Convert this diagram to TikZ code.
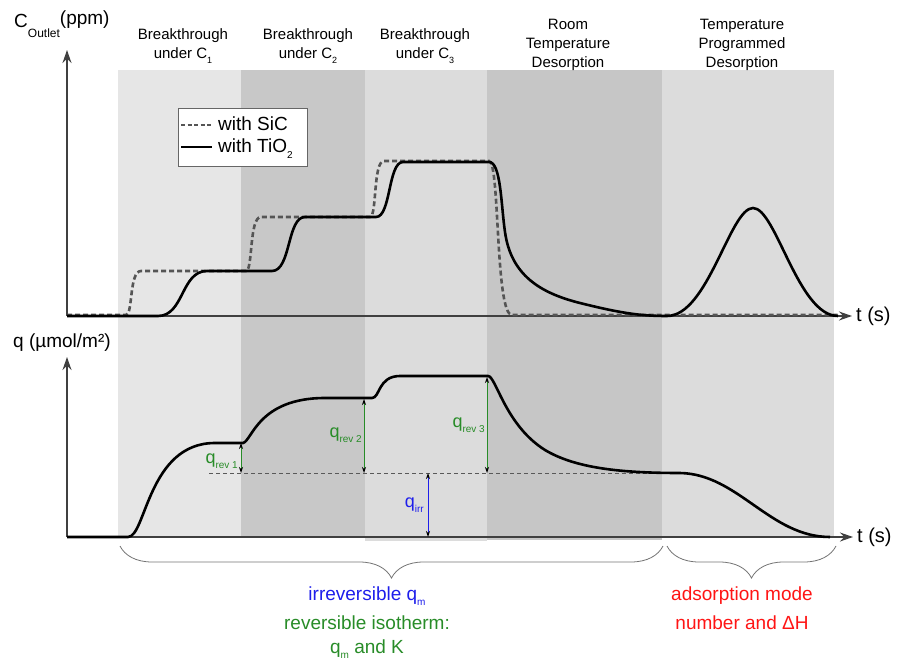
\documentclass[tikz,border=0pt]{standalone}
\usepackage{fontspec}
\setmainfont{Liberation Sans}
\usetikzlibrary{arrows.meta,decorations.pathreplacing}
\definecolor{bandA}{RGB}{230,230,230}
\definecolor{bandB}{RGB}{200,200,200}
\definecolor{bandC}{RGB}{220,220,220}
\definecolor{bandD}{RGB}{198,198,198}
\definecolor{sicgray}{RGB}{85,85,85}
\definecolor{qgreen}{RGB}{40,140,40}
\definecolor{qblue}{RGB}{30,30,235}
\definecolor{modered}{RGB}{255,20,20}
\newcommand{\sizeto}[1]{\fontsize{#1}{#1}\selectfont}
\newcommand{\dropsub}[2][9]{\raisebox{-0.3em}{\sizeto{#1}#2}}
\tikzset{
	axis/.style={line width=1.2pt, color=black!75, -{Stealth[length=13pt,width=9pt]}},
	tio/.style={line width=2.6pt, color=black},
	sic/.style={line width=2.6pt, color=sicgray, dash pattern=on 5pt off 3pt},
	stage/.style={align=center, font=\sizeto{15}, inner sep=0pt},
	bigtxt/.style={font=\sizeto{19}, inner sep=0pt},
	qarrow/.style={line width=0.9pt, {Stealth[length=6pt,width=4pt,black]}-{Stealth[length=6pt,width=4pt,black]}},
	qlbl/.style={font=\sizeto{18}, inner sep=0pt, anchor=base east},
	curly/.style={decorate, decoration={brace, amplitude=32pt}, line width=0.8pt, color=black!55},
}

\begin{document}
\begin{tikzpicture}[x=1pt, y=-1pt]
	%%%%% START %%%%%
	\useasboundingbox (0,0) rectangle (903,661);

	% shaded stages
	\fill[bandA] (118,70) rectangle (241,538);
	\fill[bandB] (241,70) rectangle (365,536);
	\fill[bandC] (365,70) rectangle (487,541);
	\fill[bandD] (487,70) rectangle (662,540);
	\fill[bandC] (662,70) rectangle (834,538);

	% stage titles
	\node[stage] (stBone) at (183,46) {Breakthrough\\[4pt]under C\dropsub{1}};
	\node[stage] (stBtwo) at (308,46) {Breakthrough\\[4pt]under C\dropsub{2}};
	\node[stage] (stBthree) at (425,46) {Breakthrough\\[4pt]under C\dropsub{3}};
	\node[stage] (stRTD) at (568,45) {Room\\[4pt]Temperature\\[4pt]Desorption};
	\node[stage] (stTPD) at (742,45) {Temperature\\[4pt]Programmed\\[4pt]Desorption};

	% upper axes
	\coordinate (oUp) at (67,316);
	\coordinate (yUp) at (67,50);
	\coordinate (xUp) at (852,316);
	\draw[axis] (oUp) -- (yUp);
	\draw[axis] (oUp) -- (xUp);
	\node[bigtxt, anchor=base west] (cLbl) at (14,28) {C\raisebox{-10pt}{\sizeto{12}Outlet}\raisebox{3pt}{(ppm)}};
	\node[font=\sizeto{20}, inner sep=0pt, anchor=west] (tUp) at (856,316) {t (s)};

	% outlet curves
	\draw[sic] (67,315) -- (126,315) .. controls (133,315) and (129,271) .. (141,271) -- (246,271)
		.. controls (253,271) and (249,217) .. (261,217) -- (370,217)
		.. controls (377,217) and (373,161) .. (384,161) -- (489,161)
		.. controls (500,161) and (495,315) .. (512,315) -- (840,315);
	\draw[tio] (67,316) -- (158,316) .. controls (184,316) and (181,271) .. (207,271) -- (272,271)
		.. controls (291,271) and (287,217) .. (305,217) -- (376,217)
		.. controls (391,217) and (388,162) .. (403,162) -- (489,162)
		.. controls (501,162) and (501,205) .. (505,232)
		.. controls (511,275) and (540,293) .. (580,303)
		.. controls (620,313) and (640,316) .. (667,316)
		.. controls (708,316) and (730,208) .. (753,208)
		.. controls (776,208) and (798,316) .. (838,316);

	% legend
	\draw[line width=0.8pt, color=black!60, fill=white] (178,108) rectangle (307,166);
	\coordinate (lgA) at (181,125);
	\coordinate (lgB) at (212,125);
	\coordinate (lgC) at (181,147);
	\coordinate (lgD) at (212,147);
	\draw[sic, dash pattern=on 4pt off 2.5pt] (lgA) -- (lgB);
	\draw[tio] (lgC) -- (lgD);
	\node[bigtxt, anchor=base west] (lgSiC) at (218,131) {with SiC};
	\node[bigtxt, anchor=base west] (lgTiO) at (218,153) {with TiO\dropsub[10]{2}};

	% lower axes
	\coordinate (oLo) at (67,537);
	\coordinate (yLo) at (67,357);
	\coordinate (xLo) at (853,537);
	\draw[axis] (oLo) -- (yLo);
	\draw[axis] (oLo) -- (xLo);
	\node[bigtxt, anchor=base west] (qLbl) at (13,347) {q (µmol/m²)};
	\node[font=\sizeto{20}, inner sep=0pt, anchor=west] (tLo) at (857,537) {t (s)};

	% q level line
	\coordinate (irrL) at (209,473);
	\coordinate (irrR) at (662,473);
	\draw[line width=1pt, color=black!65, dash pattern=on 4pt off 3pt] (irrL) -- (irrR);

	% adsorbed amount
	\draw[tio] (67,537) -- (128,537) .. controls (146,537) and (148,443) .. (215,443) -- (243,443)
		.. controls (252,441) and (258,398) .. (325,398) -- (372,398)
		.. controls (380,398) and (378,376) .. (400,376) -- (488,376)
		.. controls (496,376) and (505,425) .. (545,450)
		.. controls (575,468) and (620,473) .. (680,473)
		.. controls (738,474) and (770,537) .. (830,537);

	% q arrows
	\coordinate (revoneT) at (241,443);
	\coordinate (revoneB) at (241,473);
	\coordinate (revtwoT) at (364,399);
	\coordinate (revtwoB) at (364,473);
	\coordinate (revthreeT) at (487,377);
	\coordinate (revthreeB) at (487,473);
	\coordinate (irrT) at (428,473);
	\coordinate (irrB) at (428,537);
	\draw[qarrow, color=qgreen] (revoneT) -- (revoneB);
	\draw[qarrow, color=qgreen] (revtwoT) -- (revtwoB);
	\draw[qarrow, color=qgreen] (revthreeT) -- (revthreeB);
	\draw[qarrow, color=qblue] (irrT) -- (irrB);
	\node[qlbl, text=qgreen] (qrevone) at (238,463) {q\dropsub[10]{rev 1}};
	\node[qlbl, text=qgreen] (qrevtwo) at (362,437) {q\dropsub[10]{rev 2}};
	\node[qlbl, text=qgreen] (qrevthree) at (485,427) {q\dropsub[10]{rev 3}};
	\node[qlbl, text=qblue] (qirr) at (424,507) {q\dropsub[10]{irr}};

	% braces and what they give
	\coordinate (brA) at (120,546);
	\coordinate (brB) at (663,546);
	\coordinate (brC) at (667,546);
	\coordinate (brD) at (836,546);
	\draw[curly] (brB) -- (brA);
	\draw[curly] (brD) -- (brC);
	\node[bigtxt, text=qblue] (irrTxt) at (367,596) {irreversible q\dropsub[10]{m}};
	\node[bigtxt, text=qgreen] (revTxt) at (367,623) {reversible isotherm:};
	\node[bigtxt, text=qgreen] (revTxtB) at (367,649) {q\dropsub[10]{m} and K};
	\node[bigtxt, text=modered] (tpdTxt) at (742,596) {adsorption mode};
	\node[bigtxt, text=modered] (tpdTxtB) at (742,623) {number and ΔH};

	%%%%% END %%%%%
\end{tikzpicture}
\end{document}
